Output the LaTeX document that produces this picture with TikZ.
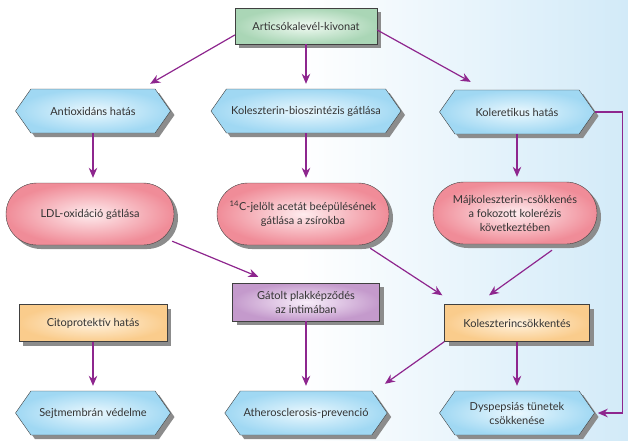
\documentclass[tikz,border=0pt]{standalone}
\usepackage{fontspec}
\setmainfont{Lato}
\usetikzlibrary{shapes.symbols,shadows,arrows.meta}
\definecolor{flowc}{RGB}{142,38,142}
\definecolor{bgblue}{RGB}{210,234,248}
\definecolor{hexout}{RGB}{160,216,243}
\definecolor{hexin}{RGB}{235,248,254}
\definecolor{pillout}{RGB}{240,140,152}
\definecolor{pillin}{RGB}{254,236,238}
\definecolor{grnout}{RGB}{170,214,182}
\definecolor{grnin}{RGB}{240,250,242}
\definecolor{orgout}{RGB}{250,204,140}
\definecolor{orgin}{RGB}{255,242,222}
\definecolor{purout}{RGB}{196,154,204}
\definecolor{purin}{RGB}{248,238,250}
\begin{document}
\begin{tikzpicture}[x=1pt,y=-1pt,>={Stealth[length=10pt,width=8.5pt]},
    font=\fontsize{11}{14}\selectfont,
    flow/.style={draw=flowc,line width=1.2pt,->,shorten >=5pt},
    boxshadow/.style={drop shadow={shadow xshift=4pt,shadow yshift=-4pt,fill=black!45,opacity=1}},
    hexa/.style={signal,signal to=west and east,signal pointer angle=110,draw=black!75,boxshadow,
        inner color=hexin,outer color=hexout,minimum width=155pt,minimum height=44pt,align=center,text=black!80},
    pill/.style={rectangle,rounded corners=31pt,draw=black!75,boxshadow,inner color=pillin,outer color=pillout,
        minimum width=168pt,minimum height=62pt,align=center,text=black!80},
    rbox/.style={rectangle,draw=black!75,boxshadow,minimum height=37pt,align=center,text=black!80}]
    \useasboundingbox (0,0) rectangle (628,440);
    %% Background
    \fill[left color=white,right color=bgblue] (300,0) rectangle (628,440);
    %% Source
    \node[rbox,inner color=grnin,outer color=grnout,minimum width=142pt,minimum height=36pt] (art) at (306,26) {Articsókalevél-kivonat};
    %% Effects
    \node[hexa] (anti) at (93,111) {Antioxidáns hatás};
    \node[hexa,minimum width=190pt] (kbio) at (306,111) {Koleszterin-bioszintézis gátlása};
    \node[hexa] (koler) at (517,112) {Koleretikus hatás};
    %% Mechanisms
    \node[pill] (ldl) at (90,214) {LDL-oxidáció gátlása};
    \node[pill,minimum width=172pt] (c14) at (303,214) {\textsuperscript{14}C-jelölt acetát beépülésének\\gátlása a zsírokba};
    \node[pill,minimum width=164pt] (maj) at (515,213) {Májkoleszterin-csökkenés\\a fokozott kolerézis\\következtében};
    %% Intermediate
    \node[rbox,inner color=purin,outer color=purout,minimum width=147pt,minimum height=38pt] (gat) at (306,302) {Gátolt plakképződés\\az intimában};
    \node[rbox,inner color=orgin,outer color=orgout,minimum width=148pt] (cito) at (93,323) {Citoprotektív hatás};
    \node[rbox,inner color=orgin,outer color=orgout,minimum width=145pt] (kolcs) at (517,323) {Koleszterincsökkentés};
    %% Outcomes
    \node[hexa] (sejt) at (93,413) {Sejtmembrán védelme};
    \node[hexa] (ath) at (306,413) {Atherosclerosis-prevenció};
    \node[hexa] (dysp) at (517,413) {Dyspepsiás tünetek\\csökkenése};
    %% Arrows
    \draw[flow,shorten >=0pt] ([yshift=-9pt]art.west) -- ([xshift=-5pt,yshift=5pt]anti.north east);
    \draw[flow] (art.south) -- (art.south |- kbio.north);
    \draw[flow,shorten >=0pt] ([yshift=-4pt]art.east) -- ([xshift=16pt,yshift=8pt]koler.north west);
    \draw[flow] (anti.south) -- (anti.south |- ldl.north);
    \draw[flow] (kbio.south) -- (kbio.south |- c14.north);
    \draw[flow] (koler.south) -- (koler.south |- maj.north);
    \draw[flow,shorten >=3pt] (koler.east) -- ++(28,0) |- (dysp.east);
    \draw[flow,shorten >=0pt] ([xshift=-2pt,yshift=4pt]ldl.south east) -- ([xshift=26pt,yshift=6pt]gat.north west);
    \draw[flow,shorten >=0pt] ([xshift=-19pt,yshift=-3pt]c14.south east) -- ([xshift=-2pt,yshift=9pt]kolcs.north west);
    \draw[flow,shorten >=0pt] ([xshift=37pt,yshift=-6pt]maj.south) -- ([xshift=-28pt,yshift=9pt]kolcs.north);
    \draw[flow] (gat.south) -- (gat.south |- ath.north);
    \draw[flow,shorten >=0pt] (kolcs.south west) -- ([xshift=13pt,yshift=7pt]ath.north east);
    \draw[flow] (kolcs.south) -- (kolcs.south |- dysp.north);
    \draw[flow] (cito.south) -- (cito.south |- sejt.north);
\end{tikzpicture}
\end{document}
